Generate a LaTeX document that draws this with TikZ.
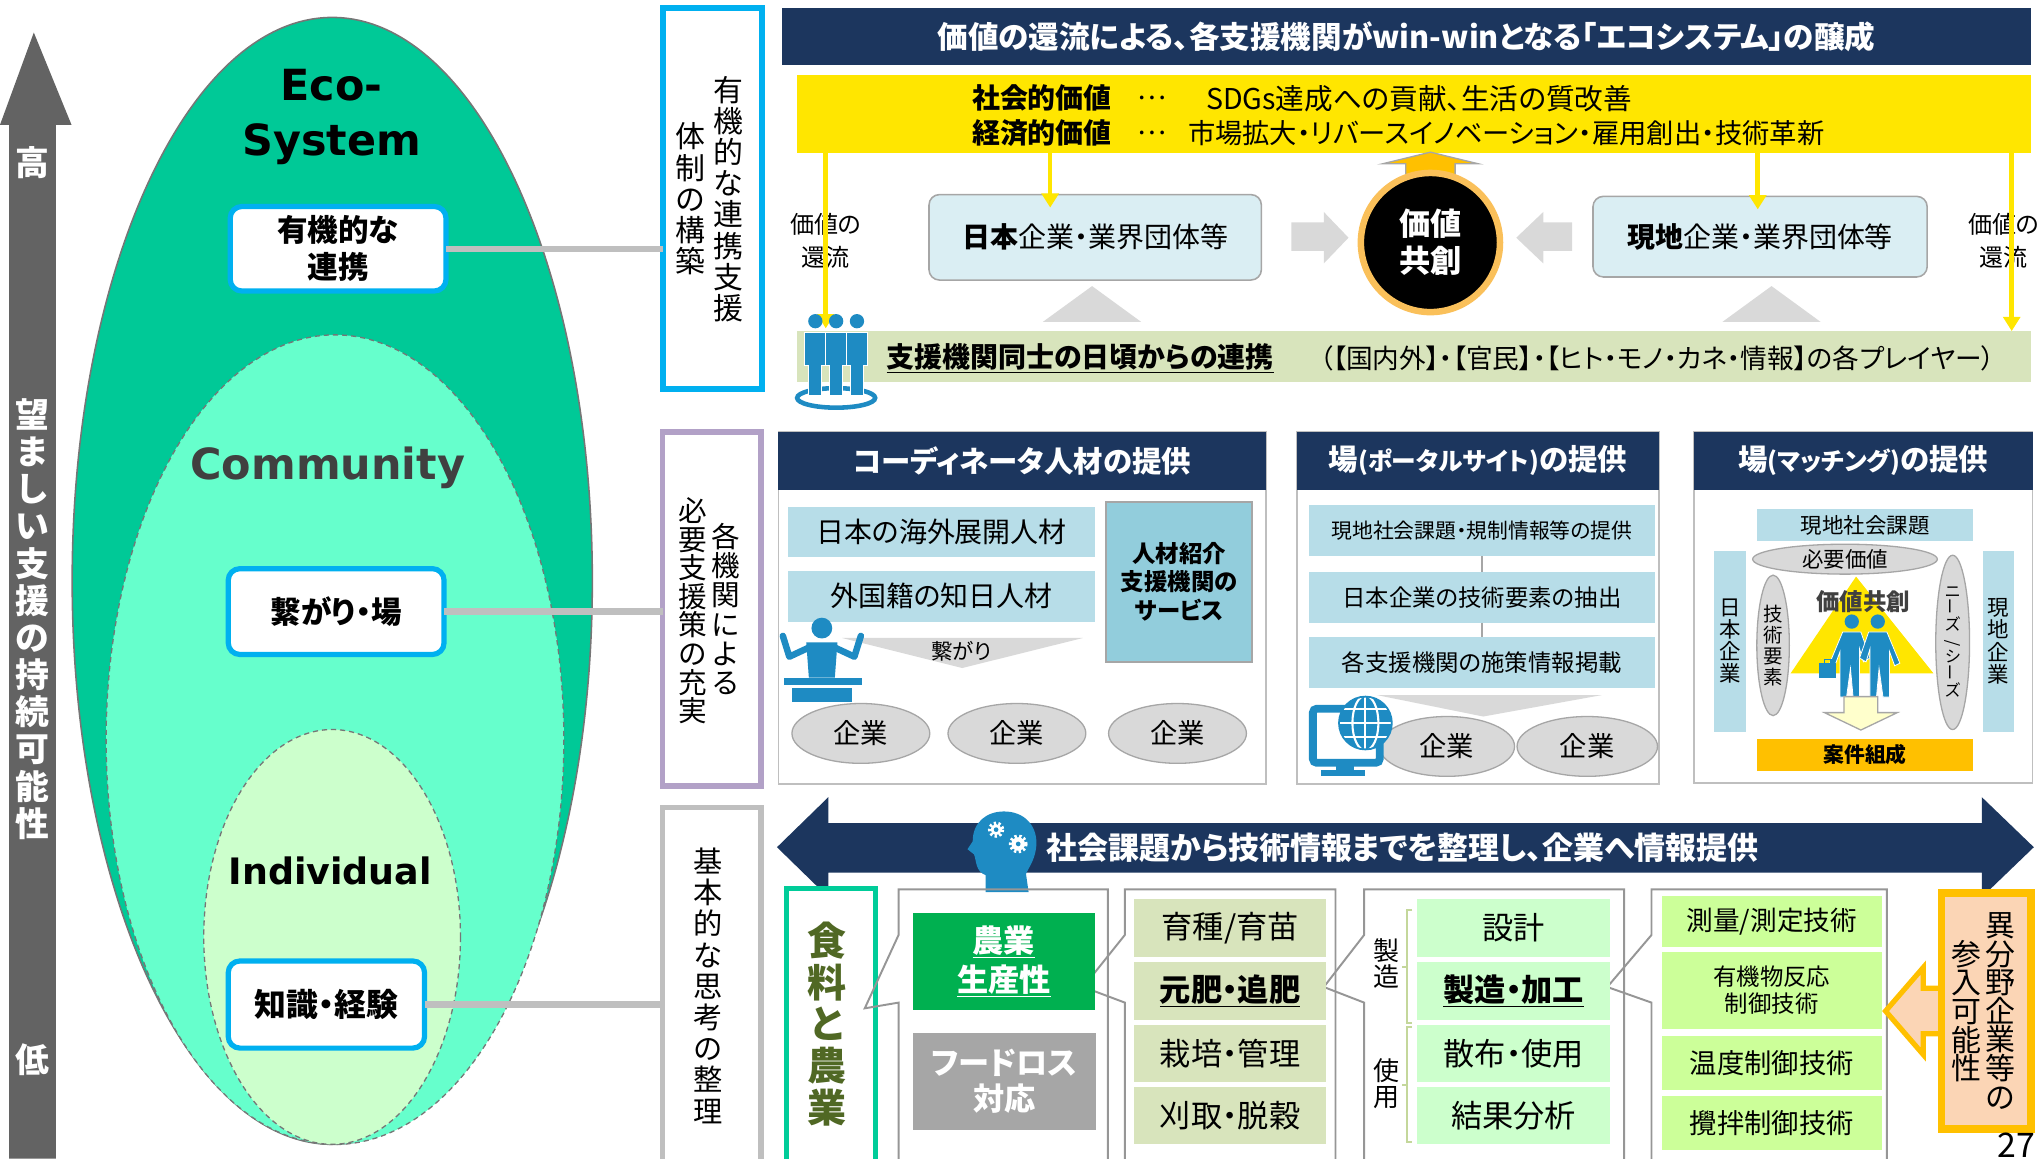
\documentclass[tikz,border=0pt]{standalone}
\usepackage{fontspec}
\setmainfont{Noto Sans CJK JP}[RawFeature=+palt]
\newfontfamily\latinfont{DejaVu Sans}
\usetikzlibrary{arrows.meta,positioning,shapes.geometric}

\definecolor{scalegray}{RGB}{99,99,99}
\definecolor{ecogreen}{RGB}{0,201,151}
\definecolor{commgreen}{RGB}{102,255,204}
\definecolor{indivgreen}{RGB}{204,255,204}
\definecolor{ellipsegray}{RGB}{118,118,118}
\definecolor{commtext}{RGB}{64,64,64}
\definecolor{framecyan}{RGB}{0,176,240}
\definecolor{framelilac}{RGB}{178,161,199}
\definecolor{linegray}{RGB}{191,191,191}
\definecolor{bannerblue}{RGB}{28,54,94}
\definecolor{valyellow}{RGB}{255,230,0}
\definecolor{paleteal}{RGB}{218,238,243}
\definecolor{boxedge}{RGB}{166,166,166}
\definecolor{arrowlight}{RGB}{217,217,217}
\definecolor{coreorange}{RGB}{250,192,90}
\definecolor{amber}{RGB}{255,192,0}
\definecolor{bandolive}{RGB}{216,228,188}
\definecolor{itemblue}{RGB}{183,221,232}
\definecolor{agencyblue}{RGB}{146,205,220}
\definecolor{iconblue}{RGB}{30,139,195}
\definecolor{paleyellow}{RGB}{255,255,204}
\definecolor{agrigreen}{RGB}{0,176,80}
\definecolor{lossgray}{RGB}{166,166,166}
\definecolor{foodteal}{RGB}{0,204,153}
\definecolor{foodolive}{RGB}{80,104,36}
\definecolor{mintcell}{RGB}{204,255,204}
\definecolor{limecell}{RGB}{204,255,153}
\definecolor{bracketgreen}{RGB}{196,215,155}
\definecolor{peach}{RGB}{251,213,181}
\definecolor{calloutgray}{RGB}{150,150,150}

\newcommand\fz[2]{\fontsize{#1}{#2}\selectfont}

\tikzset{
  every node/.style={inner sep=0pt,outer sep=0pt},
  keybox/.style={draw=framecyan,line width=4pt,fill=white,rounded corners=9pt,
    align=center,font=\fz{23.5}{28.5}\bfseries},
  tagbox/.style={line width=4.5pt,fill=white},
  vtext/.style={align=center,font=\fz{23}{24}},
  header/.style={fill=bannerblue,text=white,font=\fz{22.6}{26}\bfseries},
  panel/.style={draw=linegray,line width=1.2pt,fill=white},
  item/.style={fill=itemblue,align=center},
  orgbox/.style={fill=paleteal,draw=boxedge,line width=1.2pt,rounded corners=8pt,
    font=\fz{21.5}{26}},
  firm/.style={ellipse,draw=boxedge,line width=1pt,fill=arrowlight,
    minimum width=106pt,minimum height=46pt,font=\fz{21}{24}},
  oval/.style={ellipse,draw=boxedge,line width=1pt,fill=arrowlight,align=center},
  valarrow/.style={draw=valyellow,line width=3.5pt,-{Triangle[width=13pt,length=11pt]}},
  callout/.style={draw=calloutgray,line width=1.5pt},
  cell/.style={align=center,minimum width=148pt,font=\fz{24}{28}},
  techcell/.style={fill=limecell,align=center,minimum width=169pt,font=\fz{21}{24}},
}

\begin{document}
\begin{tikzpicture}[x=1pt,y=-1pt]
\useasboundingbox (0,0) rectangle (1568,891);

% --- left scale arrow
\fill[scalegray] (7,891) -- (7,96) -- (0,96) -- (26,25) -- (55,96) -- (43,96) -- (43,891) -- cycle;
\node[text=white,font=\fz{26}{28}\bfseries] (high) at (25,125) {高};
\node[text=white,font=\fz{26}{28.6}\bfseries,align=center] (axis) at (25,476)
  {望\\ま\\し\\い\\支\\援\\の\\持\\続\\可\\能\\性};
\node[text=white,font=\fz{26}{28}\bfseries] (low) at (25,815) {低};

% --- nested ellipses
\filldraw[fill=ecogreen,draw=ellipsegray,line width=1.2pt] (255.5,446.7) ellipse [x radius=200,y radius=433.3];
\filldraw[fill=commgreen,draw=ellipsegray,line width=1pt,dash pattern=on 4pt off 3pt]
  (257.6,568.8) ellipse [x radius=176,y radius=311.3];
\filldraw[fill=indivgreen,draw=ellipsegray,line width=1pt,dash pattern=on 4pt off 3pt]
  (255.4,720.5) ellipse [x radius=98.7,y radius=159.5];

\node[font=\latinfont\fz{33}{42.7}\bfseries,align=center] (eco) at (255,90) {Eco-\\System};
\node[font=\latinfont\fz{33}{36}\bfseries,text=commtext] (community) at (252,360) {Community};
\node[font=\latinfont\fz{28}{30}\bfseries] (individual) at (254,670) {Individual};

\node[keybox,minimum width=166pt,minimum height=65pt] (organic) at (260,191.3) {有機的な\\連携};
\node[keybox,minimum width=166pt,minimum height=66pt] (linkage) at (258.5,470.3) {繋がり・場};
\node[keybox,minimum width=151pt,minimum height=67pt,font=\fz{24.5}{28}\bfseries] (knowhow) at (251,772.5) {知識・経験};

% --- tag boxes with vertical captions
\node[tagbox,draw=framecyan,minimum width=76pt,minimum height=293pt] (tagsys) at (547.8,152.9) {};
\node[tagbox,draw=framelilac,minimum width=76pt,minimum height=272pt] (tagpol) at (547.5,468.2) {};
\node[tagbox,draw=linegray,minimum width=76pt,minimum height=290pt] (tagbase) at (547.5,766) {};

\draw[linegray,line width=5pt] (organic.east) -- (tagsys.west |- organic.east);
\draw[linegray,line width=5pt] (linkage.east) -- (tagpol.west |- linkage.east);
\draw[linegray,line width=5pt] (knowhow.east) -- (tagbase.west |- knowhow.east);

\node[vtext] (sysA) at (560,153) {有\\機\\的\\な\\連\\携\\支\\援};
\node[vtext] (sysB) at (530.6,153) {体\\制\\の\\構\\築};
\node[vtext,font=\fz{22}{22.5}] (polA) at (558,468.3) {各\\機\\関\\に\\よ\\る};
\node[vtext,font=\fz{22}{22}] (polB) at (532.5,469.7) {必\\要\\支\\援\\策\\の\\充\\実};
\node[vtext,font=\fz{22.5}{24}] (baseA) at (544.5,758) {基\\本\\的\\な\\思\\考\\の\\整\\理};

% --- ecosystem block
\node[header,font=\fz{23.5}{26}\bfseries,minimum width=961pt,minimum height=43.6pt] (banner) at (1081.5,28.2)
  {価値の還流による、各支援機関がwin-winとなる「エコシステム」の醸成};
\node[fill=valyellow,minimum width=949pt,minimum height=59.5pt] (valband) at (1087.5,87.75) {};
\node[font=\fz{21.5}{24}\bfseries,anchor=west] (socv) at (747.5,75.6) {社会的価値};
\node[font=\fz{21.5}{24}\bfseries,anchor=west] (econv) at (747.5,102.6) {経済的価値};
\node[font=\fz{21}{24}] (dotsA) at (886,75.6) {…};
\node[font=\fz{21}{24}] (dotsB) at (886,102.6) {…};
\node[font=\fz{22}{24},anchor=west] (socdesc) at (927.5,75.6) {SDGs達成への貢献、生活の質改善};
\node[font=\fz{21}{24},anchor=west] (econdesc) at (913.6,102.6) {市場拡大・リバースイノベーション・雇用創出・技術革新};

\node[orgbox,minimum width=255.6pt,minimum height=65.7pt] (jpbox) at (842.2,182.5) {{\bfseries 日本}企業・業界団体等};
\node[orgbox,minimum width=257pt,minimum height=62pt] (lcbox) at (1353.5,182) {{\bfseries 現地}企業・業界団体等};

\fill[arrowlight] (993,171) -- (1018,171) -- (1018,163) -- (1037,182.8) -- (1018,202.6) -- (1018,193) -- (993,193) -- cycle;
\fill[arrowlight] (1209,171) -- (1186.8,171) -- (1186.8,163) -- (1166,182.8) -- (1186.8,202.6) -- (1186.8,193) -- (1209,193) -- cycle;

\filldraw[fill=amber,draw=boxedge,line width=1pt] (1081,136) -- (1081,126) -- (1063,126) -- (1100,117)
  -- (1137,126) -- (1119,126) -- (1119,136) -- cycle;
\node[circle,fill=black,draw=coreorange,line width=5pt,minimum size=107pt,align=center,
  text=white,font=\fz{24}{28.5}\bfseries] (cocreate) at (1100,186.5) {価値\\共創};

\fill[arrowlight] (802,247.5) -- (877.5,247.5) -- (839.8,220) -- cycle;
\fill[arrowlight] (1324.6,247.5) -- (1400,247.5) -- (1362.3,220) -- cycle;

\node[fill=bandolive,minimum width=949pt,minimum height=39pt] (coopband) at (1087.5,274.1) {};
\node[font=\fz{21.5}{24}\bfseries,anchor=west] (coop) at (681.8,275.6) {\underline{支援機関同士の日頃からの連携}};
\node[font=\fz{20.5}{24},anchor=west] (players) at (1014.8,275.6)
  {（【国内外】・【官民】・【ヒト・モノ・カネ・情報】の各プレイヤー）};

\node[font=\fz{18.5}{25.6},align=center] (returnL) at (635,185) {価値の\\還流};
\node[font=\fz{18.5}{25.6},align=center] (returnR) at (1541,185) {価値の\\還流};

\draw[valarrow] (valband.south -| returnL) -- ++(0,135);
\draw[valarrow] (valband.south -| 807.6,0) -- ([yshift=-10pt]jpbox.north -| 807.6,0);
\draw[valarrow] (valband.south -| 1351.7,0) -- ([yshift=-10pt]lcbox.north -| 1351.7,0);
\draw[valarrow] (valband.south -| 1547,0) -- (coopband.north -| 1547,0);

% staff icon on the ring
\draw[iconblue,line width=3.5pt] (643,306) ellipse [x radius=30,y radius=7.5];
\foreach \px in {627,659,643} {
  \filldraw[fill=iconblue,draw=white,line width=0.8pt] (\px-8,256) -- (\px+8,256) -- (\px+8,281)
    -- (\px+5,281) -- (\px+5,304) -- (\px-5,304) -- (\px-5,281) -- (\px-8,281) -- cycle;
  \fill[iconblue] (\px,247) circle (5.5);
}

% --- coordinator panel
\node[panel,minimum width=375pt,minimum height=271pt] (coordpanel) at (786,467.5) {};
\node[header,minimum width=375pt,minimum height=44.8pt] (coordhead) at (786,354.4) {コーディネータ人材の提供};
\node[item,minimum width=236pt,minimum height=38pt,font=\fz{21.5}{24}] (overseas) at (724,409) {日本の海外展開人材};
\node[item,minimum width=236pt,minimum height=39pt,font=\fz{21.5}{24}] (foreign) at (724,458.5) {外国籍の知日人材};
\node[fill=agencyblue,draw=boxedge,line width=1.5pt,minimum width=112pt,minimum height=123pt,
  align=center,font=\fz{18}{21.8}\bfseries] (agency) at (906.8,447.3) {人材紹介\\支援機関の\\サービス};
\fill[arrowlight] (647.5,490.6) -- (832.8,490.6) -- (740,513.7) -- cycle;
\node[font=\fz{16.5}{20}] (bond) at (739.5,500.6) {繋がり};
\node[firm] (firmA) at (662,564) {企業};
\node[firm] (firmB) at (782,564) {企業};
\node[firm] (firmC) at (905.5,564) {企業};
% speaker at a lectern
\fill[iconblue] (632,483) circle (8);
\fill[iconblue] (620,494) -- (644,494) -- (642,521) -- (622,521) -- cycle;
\draw[iconblue,line width=5pt,line cap=round,line join=round] (622,498) -- (607,505) -- (602,489);
\draw[iconblue,line width=5pt,line cap=round,line join=round] (642,498) -- (657,505) -- (662,489);
\fill[iconblue] (603,521) rectangle (663,527);
\fill[iconblue] (609,529) rectangle (655,540);

% --- portal panel
\node[panel,minimum width=278.5pt,minimum height=271pt] (portpanel) at (1136.5,467.5) {};
\node[header,minimum width=278.5pt,minimum height=44.8pt] (porthead) at (1136.5,354.4)
  {場{\fz{19}{22}(ポータルサイト)}の提供};
\node[item,minimum width=266pt,minimum height=39.3pt,font=\fz{16}{20}] (issues) at (1139.6,408) {現地社会課題・規制情報等の提供};
\node[item,minimum width=266pt,minimum height=39.3pt,font=\fz{18}{22}] (techex) at (1139.6,459.2) {日本企業の技術要素の抽出};
\node[item,minimum width=266pt,minimum height=39.3pt,font=\fz{18}{22}] (policy) at (1139.6,509.2) {各支援機関の施策情報掲載};
\draw[boxedge,line width=1pt] (issues) -- (techex);
\draw[boxedge,line width=1pt] (techex) -- (policy);
\fill[arrowlight] (1058.8,534.5) -- (1231.9,534.5) -- (1140.6,551) -- cycle;
\node[firm,minimum width=104pt] (firmD) at (1112.7,574) {企業};
\node[firm,minimum width=108pt] (firmE) at (1220.6,574) {企業};
% monitor with globe
\draw[iconblue,line width=6pt,rounded corners=3pt] (1009.6,545) rectangle (1061,586.6);
\fill[iconblue] (1027,589) rectangle (1041,593);
\fill[iconblue] (1016,592) rectangle (1050,597);
\fill[iconblue] (1050,556) circle (21);
\begin{scope}
  \clip (1050,556) circle (19.5);
  \draw[white,line width=1.6pt] (1050,535) -- (1050,577) (1029,556) -- (1071,556)
    (1029,545) -- (1071,545) (1029,567) -- (1071,567);
  \draw[white,line width=1.6pt] (1050,556) ellipse [x radius=10,y radius=21];
\end{scope}

% --- matching panel
\node[panel,minimum width=260.5pt,minimum height=270pt] (matchpanel) at (1432.8,467) {};
\node[header,minimum width=260.5pt,minimum height=44.8pt] (matchhead) at (1432.8,354.4)
  {場{\fz{19}{22}(マッチング)}の提供};
\node[item,minimum width=166.5pt,minimum height=24pt,font=\fz{16.5}{20}] (localissue) at (1434.3,403.8) {現地社会課題};
\node[oval,minimum width=142pt,minimum height=23pt,font=\fz{16.5}{20}] (needval) at (1418.8,430) {必要価値};
\node[item,minimum width=24.7pt,minimum height=139pt,font=\fz{16.5}{17}] (jpside) at (1330.4,493.2) {日\\本\\企\\業};
\node[item,minimum width=24pt,minimum height=139pt,font=\fz{16.5}{17}] (lcside) at (1536.8,493.2) {現\\地\\企\\業};
\node[oval,minimum width=25pt,minimum height=108pt,font=\fz{15}{16}] (seeds) at (1363.5,496.3) {技\\術\\要\\素};
\node[oval,minimum width=26pt,minimum height=134pt,font=\fz{12.5}{12.5}] (needs) at (1501.6,494)
  {ニ\\\rotatebox{90}{ー}\\ズ\\\rotatebox{90}{/}\\シ\\\rotatebox{90}{ー}\\ズ};
\fill[valyellow] (1427.3,443.4) -- (1377,517.8) -- (1486.8,517.8) -- cycle;
\node[font=\fz{18}{22}\bfseries,text=commtext] (cocreateB) at (1432.7,462.7) {価値共創};
% handshake
\foreach \s in {1,-1} {
  \filldraw[fill=iconblue,draw=white,line width=0.6pt,shift={(1434,0)},xscale=\s]
    (-17,486) -- (-3,486) -- (4,506) -- (-1,509) -- (-4,499) -- (-4,536) -- (-9,536) -- (-11,514)
    -- (-14,536) -- (-19,536) -- (-19,501) -- (-23,512) -- (-27,510) -- cycle;
  \fill[iconblue,shift={(1434,0)},xscale=\s] (-10,478) circle (5.5);
}
\fill[iconblue] (1399,510) rectangle (1412,521);
\draw[iconblue,line width=1pt] (1403,510) -- (1403,507) -- (1408,507) -- (1408,510);
\filldraw[fill=paleyellow,draw=boxedge,line width=1pt] (1418,535.7) -- (1444,535.7) -- (1444,548) -- (1459,548)
  -- (1431,561.4) -- (1403,548) -- (1418,548) -- cycle;
\node[fill=amber,minimum width=166.5pt,minimum height=24.7pt,font=\fz{16}{20}\bfseries] (deal) at (1434.3,580.4) {案件組成};

% --- bottom: information arrow
\fill[bannerblue] (597.5,651.5) -- (637,613) -- (637,633) -- (1524,633) -- (1524,613) -- (1564,651.5)
  -- (1524,690) -- (1524,671) -- (637,671) -- (637,690) -- cycle;
\node[font=\fz{23.8}{26}\bfseries,text=white,anchor=west] (infoflow) at (805,652) {社会課題から技術情報までを整理し、企業へ情報提供};
% thinking head
\fill[iconblue] (758,686) -- (758,673) .. controls (750,670) and (751,662) .. (749,657) -- (744,653)
  -- (748,647) .. controls (748,632) and (759,624) .. (772,624) .. controls (788,624) and (797,635) .. (797,648)
  .. controls (797,660) and (791,667) .. (789,672) -- (791,686) -- cycle;
\foreach \gx/\gy/\gr in {766/638/5, 783/649/6} {
  \draw[white,line width=2.5pt,dash pattern=on 1.8pt off 1.8pt] (\gx,\gy) circle (\gr);
  \fill[white] (\gx,\gy) circle (\gr-0.8);
  \fill[iconblue] (\gx,\gy) circle (1.8);
}

% --- food and agriculture breakdown
\node[draw=foodteal,line width=4pt,fill=white,minimum width=68pt,minimum height=222pt] (foodbox) at (639,794) {};
\node[align=center,font=\fz{30}{32}\bfseries,text=foodolive] (food) at (636,787.5) {食\\料\\と\\農\\業};

\draw[callout] (691,900) -- (691,771) -- (665,775.4) -- (691,719) -- (691,684) -- (852,684) -- (852,900);
\draw[callout] (865,900) -- (865,771) -- (833,759) -- (865,719) -- (865,684) -- (1027,684) -- (1027,900);
\draw[callout] (1049,900) -- (1049,771) -- (1018,759) -- (1049,719) -- (1049,684) -- (1249,684) -- (1249,900);
\draw[callout] (1270,900) -- (1270,771) -- (1236,759) -- (1270,719) -- (1270,684) -- (1451,684) -- (1451,900);

\node[fill=agrigreen,text=white,align=center,minimum width=140pt,minimum height=75pt,
  font=\fz{24}{30}\bfseries] (agri) at (772,739.5) {\underline{農業}\\\underline{生産性}};
\node[fill=lossgray,text=white,align=center,minimum width=141pt,minimum height=75pt,
  font=\fz{24}{28}\bfseries] (foodloss) at (772.5,831.5) {フードロス\\対応};

\node[cell,fill=bandolive,minimum height=45pt] (breed) at (946,713.5) {育種/育苗};
\node[cell,fill=bandolive,minimum height=44pt,font=\fz{24}{28}\bfseries] (fert) at (946,762) {\underline{元肥・追肥}};
\node[cell,fill=bandolive,minimum height=44pt] (grow) at (946,810) {栽培・管理};
\node[cell,fill=bandolive,minimum height=44pt] (harvest) at (946,858) {刈取・脱穀};

\node[cell,fill=mintcell,minimum height=45pt] (design) at (1164,713.5) {設計};
\node[cell,fill=mintcell,minimum height=44pt,font=\fz{24}{28}\bfseries] (process) at (1164,762) {\underline{製造・加工}};
\node[cell,fill=mintcell,minimum height=44pt] (spread) at (1164,810) {散布・使用};
\node[cell,fill=mintcell,minimum height=44pt] (analysis) at (1164,858) {結果分析};
\node[align=center,font=\fz{20}{20}] (makeside) at (1066,741) {製\\造};
\node[align=center,font=\fz{20}{20}] (useside) at (1066,833) {使\\用};
\draw[bracketgreen,line width=1.5pt] (1086,700) -- (1082,700) -- (1082,787) -- (1086,787) (1082,743.5) -- (1078,743.5);
\draw[bracketgreen,line width=1.5pt] (1086,790) -- (1082,790) -- (1082,878) -- (1086,878) (1082,834) -- (1078,834);

\node[techcell,minimum height=39pt,font=\fz{20.5}{24}] (survey) at (1362.5,708.5) {測量/測定技術};
\node[techcell,minimum height=59pt,font=\fz{18}{21}] (reaction) at (1362.5,761.5) {有機物反応\\制御技術};
\node[techcell,minimum height=41pt] (thermo) at (1362.5,817.5) {温度制御技術};
\node[techcell,minimum height=41pt] (stirring) at (1362.5,863.5) {攪拌制御技術};

% --- entry of other industries
\filldraw[fill=peach,draw=amber,line width=4pt,line join=miter] (1495,760) -- (1479,760) -- (1479,744)
  -- (1450,777.5) -- (1479,811) -- (1479,795) -- (1495,795);
\node[fill=peach,draw=amber,line width=6pt,minimum width=69pt,minimum height=181pt] (entry) at (1527.5,777.5) {};
\node[align=center,font=\fz{23}{22}] (entryA) at (1538,777.3) {異\\分\\野\\企\\業\\等\\の};
\node[align=center,font=\fz{23}{22}] (entryB) at (1512,777.5) {参\\入\\可\\能\\性};

\node[font=\fz{26}{28},anchor=north west] (pageno) at (1536,871) {27};
\end{tikzpicture}
\end{document}
